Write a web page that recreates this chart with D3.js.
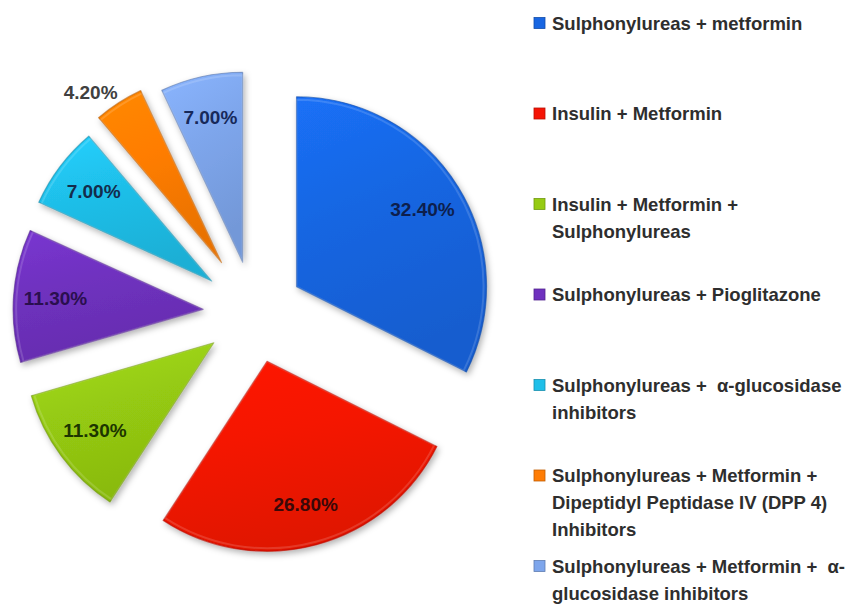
<!DOCTYPE html>
<html>
<head>
<meta charset="utf-8">
<script src="https://cdn.jsdelivr.net/npm/d3@7"></script>
<style>
  html, body { margin: 0; padding: 0; background: #ffffff; }
  svg { display: block; }
  text, tspan { white-space: pre; }
</style>
</head>
<body>
<svg id="chart" width="852" height="605"></svg>
<script>
// ---------- data ----------
const categories = [
  "Sulphonylureas + metformin",
  "Insulin + Metformin",
  "Insulin + Metformin +\nSulphonylureas",
  "Sulphonylureas + Pioglitazone",
  "Sulphonylureas +  \u03b1-glucosidase\ninhibitors",
  "Sulphonylureas + Metformin +\nDipeptidyl Peptidase IV (DPP 4)\nInhibitors",
  "Sulphonylureas + Metformin +  \u03b1-\nglucosidase inhibitors"
];
const values = [32.4, 26.8, 11.3, 11.3, 7.0, 4.2, 7.0];
const valueLabels = ["32.40%", "26.80%", "11.30%", "11.30%", "7.00%", "4.20%", "7.00%"];

// ---------- style ----------
const baseColors  = ["#1866e2", "#f51405", "#96cb12", "#6f31bf", "#1fbfe9", "#ff7d05", "#7ea6ec"];
const labelColors = ["#0d1f4d", "#3a0808", "#1c3500", "#2a0f4e", "#142c4c", "#404040", "#17295a"];
const explode     = [50, 50, 50, 51, 53, 60, 52];
const labelOutside = [false, false, false, false, false, true, false];

const svg = d3.select("#chart");
const cx = 254, cy = 313, R = 190;

const defs = svg.append("defs");
const filt = defs.append("filter").attr("id", "shadow")
  .attr("x", "-20%").attr("y", "-20%").attr("width", "140%").attr("height", "140%");
filt.append("feDropShadow").attr("dx", 2).attr("dy", 3).attr("stdDeviation", 3)
  .attr("flood-color", "#000").attr("flood-opacity", 0.3);

baseColors.forEach((c, i) => {
  const g = defs.append("linearGradient").attr("id", "grad" + i)
    .attr("x1", "0").attr("y1", "0").attr("x2", "0.3").attr("y2", "1");
  const col = d3.color(c);
  g.append("stop").attr("offset", "0%").attr("stop-color", col.brighter(0.25).formatHex());
  g.append("stop").attr("offset", "45%").attr("stop-color", col.formatHex());
  g.append("stop").attr("offset", "100%").attr("stop-color", col.darker(0.25).formatHex());
});

const pie = d3.pie().sort(null).value(d => d)(values);
const arc = d3.arc().innerRadius(0).outerRadius(R);
const labelArc = d3.arc().innerRadius(148).outerRadius(148);

const root = svg.append("g").attr("transform", `translate(${cx},${cy})`);

const slices = root.selectAll("g.slice").data(pie).enter().append("g")
  .attr("class", "slice")
  .attr("transform", (d, i) => {
    const a = (d.startAngle + d.endAngle) / 2;
    return `translate(${Math.sin(a) * explode[i]},${-Math.cos(a) * explode[i]})`;
  });

slices.append("path")
  .attr("d", arc)
  .attr("fill", (d, i) => `url(#grad${i})`)
  .attr("stroke", (d, i) => d3.color(baseColors[i]).darker(0.9).formatHex())
  .attr("stroke-opacity", 0.6)
  .attr("stroke-width", 1.2)
  .attr("stroke-linejoin", "round")
  .attr("filter", "url(#shadow)");

// inner bevel highlight
slices.append("path")
  .attr("d", d3.arc().innerRadius(0).outerRadius(R - 3))
  .attr("fill", "none")
  .attr("stroke", "#ffffff")
  .attr("stroke-opacity", 0.15)
  .attr("stroke-width", 2);

const labels = slices.append("text")
  .attr("text-anchor", "middle")
  .attr("dominant-baseline", "central")
  .attr("font-family", "Liberation Sans, Arial, sans-serif")
  .attr("font-weight", "bold")
  .attr("font-size", 19)
  .attr("fill", (d, i) => labelColors[i])
  .text((d, i) => valueLabels[i]);

labels.attr("transform", function (d, i) {
  if (!labelOutside[i]) return `translate(${labelArc.centroid(d)})`;
  // outside label: nearest box corner touches just beyond the arc along mid-angle
  const a = (d.startAngle + d.endAngle) / 2;
  const bb = this.getBBox();
  const r = R + 2;
  const px = Math.sin(a) * r, py = -Math.cos(a) * r;
  const sx = Math.sign(Math.sin(a)), sy = Math.sign(-Math.cos(a));
  return `translate(${px + sx * bb.width / 2},${py + sy * bb.height / 2 * 0.8})`;
});

// ---------- legend ----------
const ly = d3.scaleLinear().domain([0, categories.length - 1]).range([23, 566]);
const lineH = 27;
const legend = svg.append("g");
const items = legend.selectAll("g.item").data(categories).enter().append("g")
  .attr("class", "item")
  .attr("transform", (d, i) => `translate(0,${ly(i)})`);

items.append("rect")
  .attr("x", 534).attr("y", -5.5).attr("width", 11).attr("height", 11)
  .attr("fill", (d, i) => baseColors[i])
  .attr("stroke", (d, i) => d3.color(baseColors[i]).darker(0.8).formatHex())
  .attr("stroke-width", 0.8);

items.append("text")
  .attr("x", 552)
  .attr("font-family", "Liberation Sans, Arial, sans-serif")
  .attr("font-weight", "bold")
  .attr("font-size", 18.5)
  .attr("fill", "#2e2e2e")
  .attr("xml:space", "preserve")
  .selectAll("tspan").data(d => d.split("\n")).enter().append("tspan")
  .attr("x", 552)
  .attr("y", (d, j) => j * lineH)
  .attr("dominant-baseline", "central")
  .text(d => d);
</script>
</body>
</html>
